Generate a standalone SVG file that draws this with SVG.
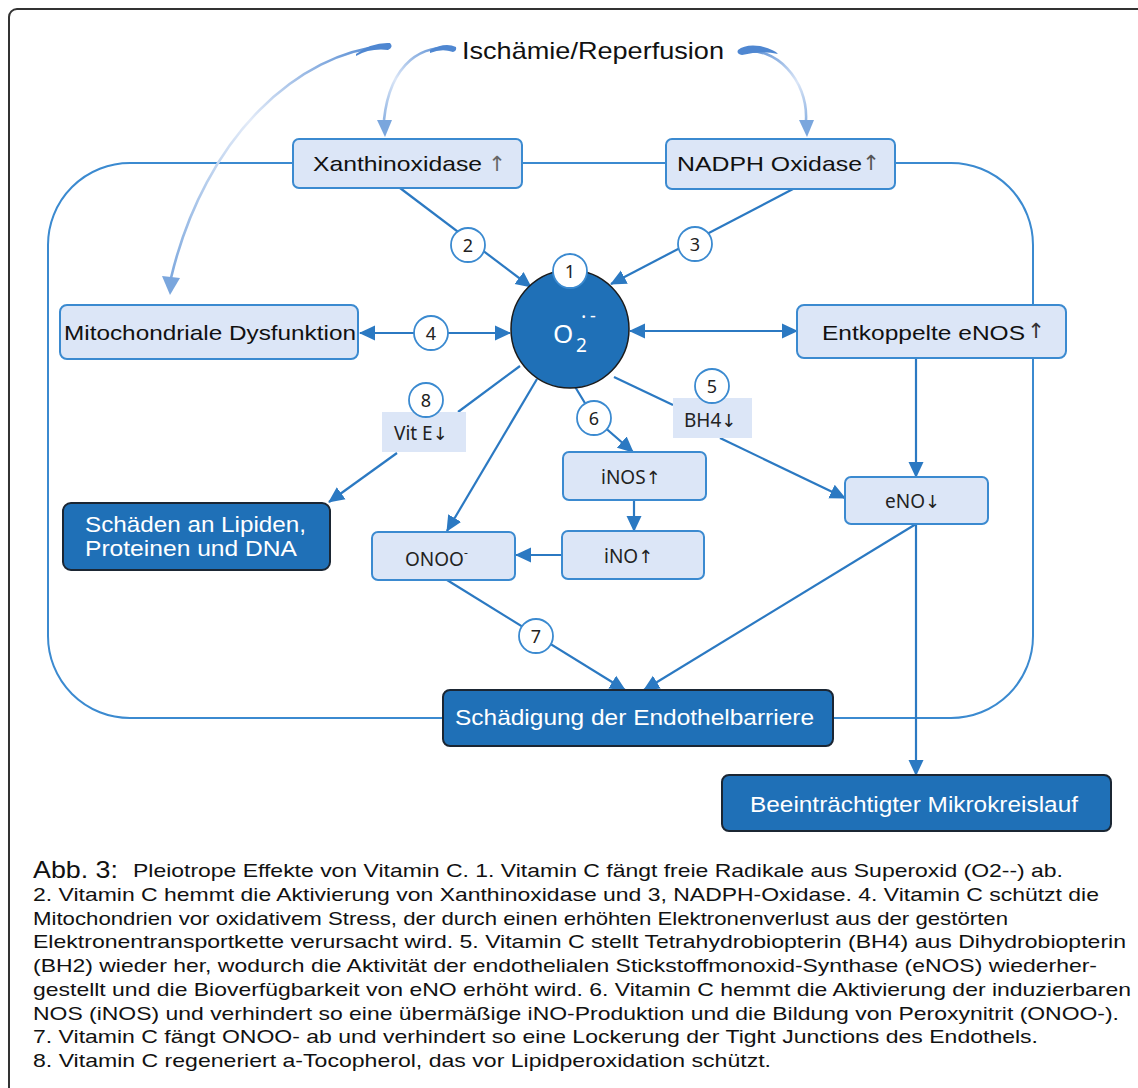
<svg xmlns="http://www.w3.org/2000/svg" width="1138" height="1088" viewBox="0 0 1138 1088">
<style>
.lb{fill:#dce6f7;stroke:#3b8ad0;stroke-width:2}
.db{fill:#1f70b7;stroke:#1b2633;stroke-width:2}
.t{font-family:"Liberation Sans",Arial,sans-serif;fill:#111}
.w{font-family:"Liberation Sans",Arial,sans-serif;fill:#fff}
.m{font-family:"Noto Sans","Open Sans",sans-serif;fill:#222}
.ar{font-family:"DejaVu Sans",sans-serif;font-weight:normal}
.con{stroke:#2b79c2;stroke-width:2.2;fill:none}
.nc{fill:#fff;stroke:#3b8ad0;stroke-width:1.8}
.nt{font-family:"Noto Sans","Open Sans",sans-serif;font-size:18px;fill:#222;text-anchor:middle}
.cap{font-family:"Liberation Sans",Arial,sans-serif;font-size:19px;fill:#111}
</style>
<defs>
<marker id="ah" viewBox="0 0 16 16" refX="15" refY="8" markerWidth="16" markerHeight="16" markerUnits="userSpaceOnUse" orient="auto-start-reverse">
<path d="M0,0.5 L16,8 L0,15.5 Z" fill="#2b79c2"/>
</marker>
<linearGradient id="gA" gradientUnits="userSpaceOnUse" x1="386" y1="45" x2="170" y2="290">
<stop offset="0" stop-color="#4f87d1"/><stop offset="0.45" stop-color="#e3ebf8"/><stop offset="1" stop-color="#7aa6dd"/>
</linearGradient>
<linearGradient id="gB" gradientUnits="userSpaceOnUse" x1="455" y1="48" x2="384" y2="135">
<stop offset="0" stop-color="#4f87d1"/><stop offset="0.55" stop-color="#dbe6f7"/><stop offset="1" stop-color="#7aa6dd"/>
</linearGradient>
<linearGradient id="gC" gradientUnits="userSpaceOnUse" x1="742" y1="50" x2="806" y2="135">
<stop offset="0" stop-color="#4f87d1"/><stop offset="0.55" stop-color="#dbe6f7"/><stop offset="1" stop-color="#7aa6dd"/>
</linearGradient>
</defs>
<rect width="1138" height="1088" fill="#fff"/>
<rect x="9" y="9" width="1150" height="1100" rx="8" fill="none" stroke="#333" stroke-width="2"/>

<g id="cell">
<rect x="48" y="163" width="985" height="555" rx="82" fill="none" stroke="#3b8ad0" stroke-width="2"/>
</g>

<g id="title">
<text class="t" x="462" y="59" font-size="24" textLength="262" lengthAdjust="spacingAndGlyphs">Ischämie/Reperfusion</text>
</g>

<g id="curves">
<path d="M386,46 C300,52 205,135 171,278" fill="none" stroke="url(#gA)" stroke-width="2.6"/>
<path d="M356,54 Q372,42 390,43 Q394,47 388,50 Q370,48 356,56 Z" fill="#4f87d1"/>
<path d="M162,276 L180,278 L170,295 Z" fill="#7aa6dd"/>
<path d="M453,50 C425,42 390,62 384,120" fill="none" stroke="url(#gB)" stroke-width="2.6"/>
<path d="M430,50 Q445,42 456,47 Q457,51 453,52 Q442,48 430,53 Z" fill="#4f87d1"/>
<path d="M377,120 L392,120 L385,137 Z" fill="#7aa6dd"/>
<path d="M742,52 C775,45 808,80 806,120" fill="none" stroke="url(#gC)" stroke-width="2.6"/>
<path d="M738,50 Q745,44 760,46 Q775,50 778,54 Q762,50 742,55 Q736,54 738,50 Z" fill="#4f87d1"/>
<path d="M799,120 L814,120 L807,137 Z" fill="#7aa6dd"/>
</g>

<g id="connectors">
<line class="con" x1="400" y1="188" x2="531" y2="287" marker-end="url(#ah)"/>
<line class="con" x1="793" y1="189" x2="611" y2="284" marker-end="url(#ah)"/>
<line class="con" x1="360" y1="333" x2="510" y2="333" marker-start="url(#ah)" marker-end="url(#ah)"/>
<line class="con" x1="630" y1="331" x2="797" y2="331" marker-start="url(#ah)" marker-end="url(#ah)"/>
<line class="con" x1="520" y1="366" x2="458" y2="412"/>
<line class="con" x1="397" y1="453" x2="329" y2="502" marker-end="url(#ah)"/>
<line class="con" x1="537" y1="379" x2="447" y2="531" marker-end="url(#ah)"/>
<polyline class="con" points="574,385 594,418 633,452" marker-end="url(#ah)"/>
<line class="con" x1="634" y1="500" x2="634" y2="531" marker-end="url(#ah)"/>
<line class="con" x1="562" y1="555" x2="516" y2="555" marker-end="url(#ah)"/>
<line class="con" x1="614" y1="377" x2="673" y2="405"/>
<line class="con" x1="720" y1="438" x2="845" y2="498" marker-end="url(#ah)"/>
<line class="con" x1="916" y1="358" x2="916" y2="477" marker-end="url(#ah)"/>
<line class="con" x1="916" y1="524" x2="644" y2="690" marker-end="url(#ah)"/>
<line class="con" x1="916" y1="524" x2="916" y2="775" marker-end="url(#ah)"/>
<line class="con" x1="447" y1="580" x2="625" y2="690" marker-end="url(#ah)"/>
</g>

<g id="xanthinoxidase">
<rect class="lb" x="293" y="139" width="229" height="49" rx="6"/>
<text class="t" x="313" y="171" font-size="21" textLength="169" lengthAdjust="spacingAndGlyphs">Xanthinoxidase</text>
<text class="ar" x="497" y="171" font-size="21" text-anchor="middle" fill="#666">↑</text>
</g>
<g id="nadph">
<rect class="lb" x="666" y="139" width="229" height="50" rx="6"/>
<text class="t" x="677" y="171" font-size="21" textLength="185" lengthAdjust="spacingAndGlyphs">NADPH Oxidase</text>
<text class="ar" x="871" y="170" font-size="21" text-anchor="middle" fill="#555">↑</text>
</g>
<g id="mito">
<rect class="lb" x="60" y="305" width="298" height="54" rx="7"/>
<text class="t" x="64" y="340" font-size="21" textLength="292" lengthAdjust="spacingAndGlyphs">Mitochondriale Dysfunktion</text>
</g>
<g id="o2">
<circle cx="570" cy="329" r="59" fill="#1f70b7" stroke="#1b1b1b" stroke-width="1.5"/>
<text class="w" x="553" y="343" font-size="26" style="font-family:'Noto Sans','Open Sans',sans-serif">O</text>
<text class="w" x="576" y="352" font-size="19" style="font-family:'Noto Sans','Open Sans',sans-serif">2</text>
<text class="w" x="581" y="324" font-size="20" style="font-family:'Noto Sans','Open Sans',sans-serif">·</text>
<text class="w" x="590" y="322" font-size="18" style="font-family:'Noto Sans','Open Sans',sans-serif">-</text>
</g>
<g id="entkoppelte">
<rect class="lb" x="797" y="305" width="269" height="53" rx="7"/>
<text class="t" x="822" y="340" font-size="21" textLength="203" lengthAdjust="spacingAndGlyphs">Entkoppelte eNOS</text>
<text class="ar" x="1036" y="338" font-size="21" text-anchor="middle" fill="#333">↑</text>
</g>
<g id="vite">
<rect x="382" y="412" width="84" height="40" fill="#dce6f7"/>
<text class="m" x="394" y="440" font-size="19">Vit E<tspan class="ar" font-size="18">↓</tspan></text>
</g>
<g id="bh4">
<rect x="673" y="398" width="79" height="40" fill="#dce6f7"/>
<text class="m" x="684" y="427" font-size="19">BH4<tspan class="ar" font-size="18">↓</tspan></text>
</g>
<g id="inos">
<rect class="lb" x="563" y="452" width="143" height="48" rx="6"/>
<text class="m" x="601" y="484" font-size="19">iNOS<tspan class="ar" font-size="18">↑</tspan></text>
</g>
<g id="ino">
<rect class="lb" x="562" y="531" width="142" height="48" rx="6"/>
<text class="m" x="604" y="563" font-size="19">iNO<tspan class="ar" font-size="18">↑</tspan></text>
</g>
<g id="onoo">
<rect class="lb" x="372" y="532" width="143" height="48" rx="6"/>
<text class="m" x="405" y="566" font-size="19">ONOO<tspan font-size="12" dy="-9">-</tspan></text>
</g>
<g id="eno">
<rect class="lb" x="845" y="477" width="143" height="47" rx="6"/>
<text class="m" x="885" y="508" font-size="19">eNO<tspan class="ar" font-size="18">↓</tspan></text>
</g>
<g id="schaeden">
<rect class="db" x="63" y="503" width="267" height="67" rx="8"/>
<text class="w" x="85" y="532" font-size="22" textLength="221" lengthAdjust="spacingAndGlyphs">Schäden an Lipiden,</text>
<text class="w" x="85" y="556" font-size="22" textLength="212" lengthAdjust="spacingAndGlyphs">Proteinen und DNA</text>
</g>
<g id="schaedigung">
<rect class="db" x="443" y="690" width="390" height="56" rx="7"/>
<text class="w" x="455" y="725" font-size="22" textLength="359" lengthAdjust="spacingAndGlyphs">Schädigung der Endothelbarriere</text>
</g>
<g id="beeintraechtigt">
<rect class="db" x="722" y="775" width="389" height="56" rx="7"/>
<text class="w" x="750" y="812" font-size="22" textLength="328" lengthAdjust="spacingAndGlyphs">Beeinträchtigter Mikrokreislauf</text>
</g>

<g id="numbers">
<circle class="nc" cx="570" cy="271" r="17"/><text class="nt" x="570" y="278">1</text>
<circle class="nc" cx="468" cy="245" r="17"/><text class="nt" x="468" y="252">2</text>
<circle class="nc" cx="695" cy="244" r="17"/><text class="nt" x="695" y="251">3</text>
<circle class="nc" cx="431" cy="333" r="17"/><text class="nt" x="431" y="340">4</text>
<circle class="nc" cx="712" cy="386" r="17"/><text class="nt" x="712" y="393">5</text>
<circle class="nc" cx="594" cy="418" r="17"/><text class="nt" x="594" y="425">6</text>
<circle class="nc" cx="536" cy="636" r="17"/><text class="nt" x="536" y="643">7</text>
<circle class="nc" cx="426" cy="400" r="17"/><text class="nt" x="426" y="407">8</text>
</g>

<g id="caption">
<text class="cap" x="33" y="878" style="font-size:24px" textLength="85" lengthAdjust="spacingAndGlyphs">Abb. 3:</text>
<text class="cap" x="133" y="877" textLength="930" lengthAdjust="spacingAndGlyphs">Pleiotrope Effekte von Vitamin C. 1. Vitamin C fängt freie Radikale aus Superoxid (O2--) ab.</text>
<text class="cap" x="33" y="900.75" textLength="1066" lengthAdjust="spacingAndGlyphs">2. Vitamin C hemmt die Aktivierung von Xanthinoxidase und 3, NADPH-Oxidase. 4. Vitamin C schützt die</text>
<text class="cap" x="33" y="924.5" textLength="975" lengthAdjust="spacingAndGlyphs">Mitochondrien vor oxidativem Stress, der durch einen erhöhten Elektronenverlust aus der gestörten</text>
<text class="cap" x="33" y="948.25" textLength="1093" lengthAdjust="spacingAndGlyphs">Elektronentransportkette verursacht wird. 5. Vitamin C stellt Tetrahydrobiopterin (BH4) aus Dihydrobiopterin</text>
<text class="cap" x="33" y="972" textLength="1064" lengthAdjust="spacingAndGlyphs">(BH2) wieder her, wodurch die Aktivität der endothelialen Stickstoffmonoxid-Synthase (eNOS) wiederher-</text>
<text class="cap" x="33" y="995.75" textLength="1098" lengthAdjust="spacingAndGlyphs">gestellt und die Bioverfügbarkeit von eNO erhöht wird. 6. Vitamin C hemmt die Aktivierung der induzierbaren</text>
<text class="cap" x="33" y="1019.5" textLength="1086" lengthAdjust="spacingAndGlyphs">NOS (iNOS) und verhindert so eine übermäßige iNO-Produktion und die Bildung von Peroxynitrit (ONOO-).</text>
<text class="cap" x="33" y="1043.25" textLength="1005" lengthAdjust="spacingAndGlyphs">7. Vitamin C fängt ONOO- ab und verhindert so eine Lockerung der Tight Junctions des Endothels.</text>
<text class="cap" x="33" y="1067" textLength="738" lengthAdjust="spacingAndGlyphs">8. Vitamin C regeneriert a-Tocopherol, das vor Lipidperoxidation schützt.</text>
</g>
</svg>
